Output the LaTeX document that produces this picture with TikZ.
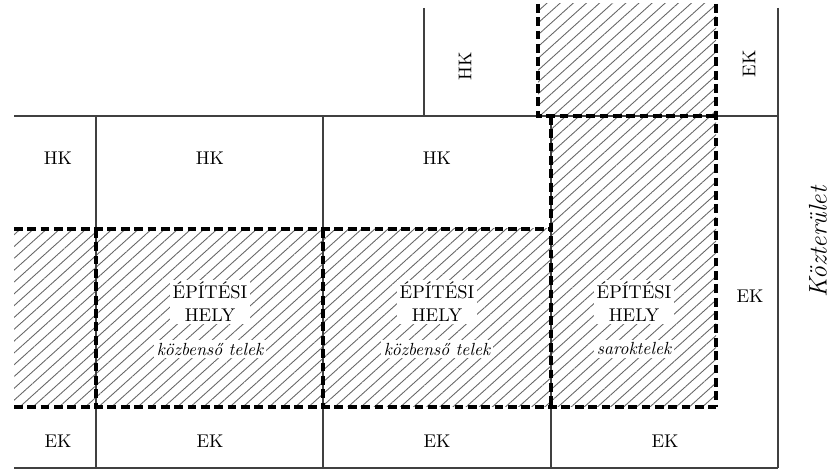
\documentclass[tikz,border=0pt]{standalone}
\usepackage{fontspec}
\usetikzlibrary{patterns.meta}

\begin{document}
\begin{tikzpicture}[x=0.02cm,y=-0.02cm,
  every node/.style={font=\fontsize{10.5}{13}\selectfont,inner sep=1.5pt},
  telek/.style={draw=black!75,line width=0.6pt},
  hely/.style={line width=2.2pt,dash pattern=on 5pt off 2.6pt},
  vonalkas/.style={pattern={Lines[angle=42,distance=5pt,line width=0.5pt]},pattern color=black!60},
  felirat/.style={fill=white,align=center},
  tipus/.style={fill=white,font=\fontsize{10}{12}\selectfont\itshape}]
\useasboundingbox (0,0) rectangle (832,472);
% hatched building places
\fill[vonalkas] (14,229) rectangle (551,407);
\fill[vonalkas] (551,116) rectangle (716,407);
\fill[vonalkas] (538,4) rectangle (716,116);
% plot boundaries
\draw[telek] (14,116) -- (778,116);
\draw[telek] (14,468) -- (778,468);
\draw[telek] (778,8) -- (778,468);
\draw[telek] (424,8) -- (424,116);
\draw[telek] (96,116) -- (96,468);
\draw[telek] (323,116) -- (323,468);
\draw[telek] (551,116) -- (551,468);
% building place borders
\draw[hely] (14,229) -- (551,229);
\draw[hely] (14,407) -- (716,407);
\draw[hely] (96,229) -- (96,407);
\draw[hely] (323,229) -- (323,407);
\draw[hely] (551,116) -- (551,407);
\draw[hely] (538,4) -- (538,116) -- (716,116);
\draw[hely] (716,4) -- (716,407);
% labels
\node (hk1) at (58,158) {HK};
\node (hk2) at (210,158) {HK};
\node (hk3) at (437,158) {HK};
\node[rotate=90] (hk4) at (465,66) {HK};
\node[rotate=90] (ek0) at (749,64) {EK};
\node (ek1) at (58,441) {EK};
\node (ek2) at (210,441) {EK};
\node (ek3) at (437,441) {EK};
\node (ek4) at (665,441) {EK};
\node (ek5) at (750,296) {EK};
\node[felirat] (eh1) at (210,302) {ÉPÍTÉSI\\HELY};
\node[felirat] (eh2) at (437,302) {ÉPÍTÉSI\\HELY};
\node[felirat] (eh3) at (634,302) {ÉPÍTÉSI\\HELY};
\node[tipus] (tk1) at (210,349) {közbenső telek};
\node[tipus] (tk2) at (437,349) {közbenső telek};
\node[tipus] (tk3) at (634,349) {saroktelek};
\node[rotate=90,inner sep=0pt,font=\fontsize{14.5}{16}\selectfont\itshape] (kt) at (818,242) {Közterület};
\end{tikzpicture}
\end{document}
